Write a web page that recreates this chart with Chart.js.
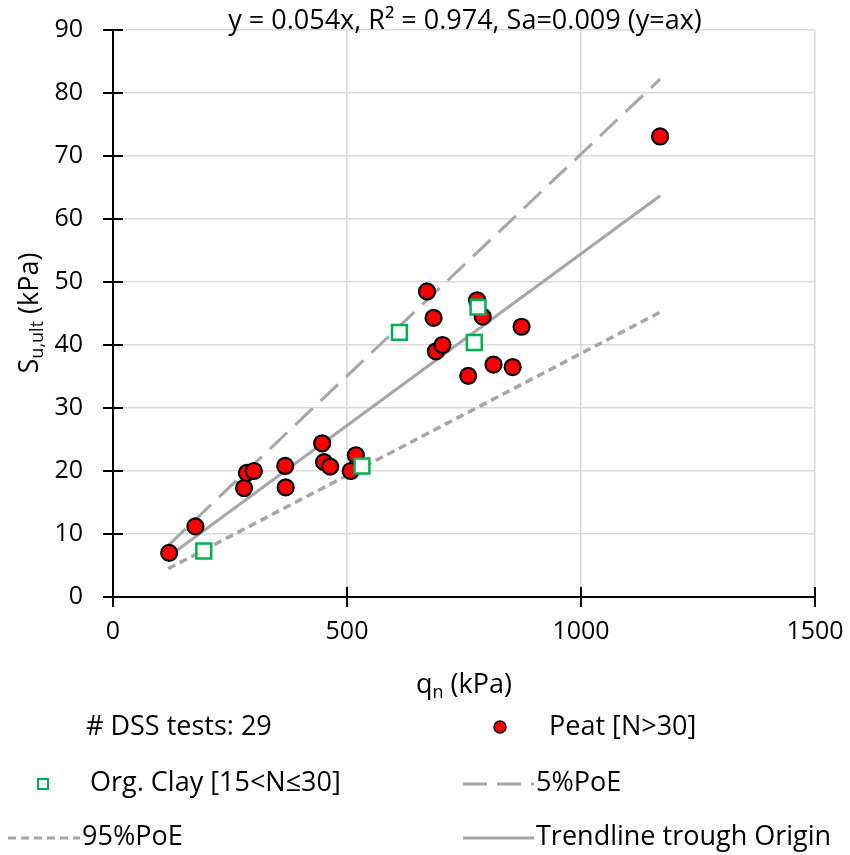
<!DOCTYPE html>
<html>
<head>
<meta charset="utf-8">
<script src="https://cdn.jsdelivr.net/npm/chart.js@4.4.0/dist/chart.umd.min.js"></script>
<style>
  html, body { margin: 0; padding: 0; background: #fff; }
  #wrap { width: 850px; height: 855px; }
</style>
</head>
<body>
<div id="wrap"><canvas id="chart" width="850" height="855"></canvas></div>
<script>
// values
const peatX = [120, 176, 280, 286, 301, 368, 369, 447, 451, 464, 508, 519, 671, 685, 690, 704, 759, 778, 790, 813, 854, 873, 1169];
const peatY = [7.0, 11.2, 17.3, 19.7, 20.0, 20.8, 17.4, 24.4, 21.4, 20.7, 20.0, 22.5, 48.5, 44.3, 39.0, 40.0, 35.1, 47.1, 44.5, 36.9, 36.5, 42.9, 73.1];
const clayX = [194, 532, 612, 772, 780];
const clayY = [7.3, 20.8, 42.0, 40.4, 46.0];
const lineX = [118, 1169];
const trendY = [6.4, 63.7];
const poe5Y = [8.2, 82.2];
const poe95Y = [4.5, 45.2];

const titleText = 'y = 0.054x, R\u00B2 = 0.974, Sa=0.009 (y=ax)';
const FONT = "'Open Sans', sans-serif";
const GREY = '#a6a6a6';

function pts(xs, ys) {
  return xs.map((x, i) => ({ x: x, y: ys[i] }));
}

// ticks crossing the axes, titles with subscripts, legend
const decor = {
  id: 'decor',
  afterDraw(chart) {
    const ctx = chart.ctx;
    const a = chart.chartArea;
    const xs = chart.scales.x, ys = chart.scales.y;
    ctx.save();
    ctx.strokeStyle = '#000';
    ctx.lineWidth = 2;
    ys.ticks.forEach(t => {
      const y = ys.getPixelForValue(t.value);
      ctx.beginPath(); ctx.moveTo(a.left - 10, y); ctx.lineTo(a.left + 10, y); ctx.stroke();
    });
    xs.ticks.forEach(t => {
      const x = xs.getPixelForValue(t.value);
      ctx.beginPath(); ctx.moveTo(x, a.bottom - 10); ctx.lineTo(x, a.bottom + 10); ctx.stroke();
    });

    const big = '27px ' + FONT, small = '18px ' + FONT;
    ctx.fillStyle = '#000';
    ctx.textBaseline = 'middle';
    ctx.font = big;
    ctx.textAlign = 'center';
    ctx.fillText(titleText, 465, 21);

    // x title: q_n (kPa)
    ctx.textAlign = 'left';
    ctx.font = big; const wq = ctx.measureText('q').width; const wk = ctx.measureText(' (kPa)').width;
    ctx.font = small; const wn = ctx.measureText('n').width;
    let x0 = 464 - (wq + wn + wk) / 2;
    ctx.font = big; ctx.fillText('q', x0, 685);
    ctx.font = small; ctx.fillText('n', x0 + wq, 693);
    ctx.font = big; ctx.fillText(' (kPa)', x0 + wq + wn, 685);

    // y title: S_u,ult (kPa)
    ctx.save();
    ctx.translate(30, 313);
    ctx.rotate(-Math.PI / 2);
    ctx.font = big; const ws = ctx.measureText('S').width; const wk2 = ctx.measureText(' (kPa)').width;
    ctx.font = small; const wu = ctx.measureText('u,ult').width;
    x0 = -(ws + wu + wk2) / 2;
    ctx.font = big; ctx.fillText('S', x0, 0);
    ctx.font = small; ctx.fillText('u,ult', x0 + ws, 8);
    ctx.font = big; ctx.fillText(' (kPa)', x0 + ws + wu, 0);
    ctx.restore();

    // legend
    ctx.font = big;
    ctx.fillStyle = '#000';
    ctx.fillText('# DSS tests: 29', 86, 727);
    ctx.fillText('Peat [N>30]', 549, 727);
    ctx.fillText('Org. Clay [15<N\u226430]', 90, 783);
    ctx.fillText('5%PoE', 536, 783);
    ctx.fillText('95%PoE', 82, 837);
    ctx.fillText('Trendline trough Origin', 536, 837);

    ctx.beginPath(); ctx.arc(500, 727, 6, 0, Math.PI * 2);
    ctx.fillStyle = '#ff0000'; ctx.fill();
    ctx.lineWidth = 1.5; ctx.strokeStyle = '#000'; ctx.stroke();

    ctx.lineWidth = 2; ctx.strokeStyle = '#00b050'; ctx.fillStyle = '#fff';
    ctx.fillRect(38, 779, 10, 10); ctx.strokeRect(38, 779, 10, 10);

    ctx.strokeStyle = GREY; ctx.lineWidth = 3;
    ctx.setLineDash([24, 10]);
    ctx.beginPath(); ctx.moveTo(463, 784); ctx.lineTo(534, 784); ctx.stroke();
    ctx.setLineDash([8, 5]);
    ctx.beginPath(); ctx.moveTo(8, 838); ctx.lineTo(80, 838); ctx.stroke();
    ctx.setLineDash([]);
    ctx.beginPath(); ctx.moveTo(463, 838); ctx.lineTo(534, 838); ctx.stroke();
    ctx.restore();
  }
};

new Chart(document.getElementById('chart'), {
  type: 'scatter',
  data: {
    datasets: [
      {
        label: 'Org. Clay [15<N\u226430]',
        data: pts(clayX, clayY),
        pointStyle: 'rect',
        pointRadius: 10.5,
        backgroundColor: '#fff',
        borderColor: '#00b050',
        borderWidth: 2.5,
        order: 1
      },
      {
        label: 'Peat [N>30]',
        data: pts(peatX, peatY),
        pointStyle: 'circle',
        pointRadius: 8,
        backgroundColor: '#ff0000',
        borderColor: '#000',
        borderWidth: 2.2,
        order: 2
      },
      {
        label: '5%PoE',
        data: pts(lineX, poe5Y),
        showLine: true,
        pointRadius: 0,
        borderColor: GREY,
        borderWidth: 3,
        borderDash: [24, 11],
        order: 3
      },
      {
        label: '95%PoE',
        data: pts(lineX, poe95Y),
        showLine: true,
        pointRadius: 0,
        borderColor: GREY,
        borderWidth: 3.5,
        borderDash: [8, 5],
        order: 4
      },
      {
        label: 'Trendline trough Origin',
        data: pts(lineX, trendY),
        showLine: true,
        pointRadius: 0,
        borderColor: GREY,
        borderWidth: 3,
        order: 5
      }
    ]
  },
  options: {
    responsive: false,
    animation: false,
    devicePixelRatio: 1,
    layout: { padding: { top: 30, right: 35, left: 0, bottom: 0 } },
    plugins: { legend: { display: false }, tooltip: { enabled: false } },
    scales: {
      x: {
        type: 'linear',
        min: 0, max: 1500,
        afterFit(s) { s.height = 258; s.paddingLeft = 0; s.paddingRight = 0; },
        ticks: { stepSize: 500, color: '#000', font: { family: FONT, size: 25 }, padding: 20, maxRotation: 0,
          callback: v => String(v) },
        grid: { color: '#d9d9d9', lineWidth: 1.5, drawTicks: false },
        border: { color: '#000', width: 2 }
      },
      y: {
        min: 0, max: 90,
        afterFit(s) { s.width = 113; s.paddingTop = 0; s.paddingBottom = 0; },
        ticks: { stepSize: 10, color: '#000', font: { family: FONT, size: 25 }, padding: 30 },
        grid: { color: '#d9d9d9', lineWidth: 1.5, drawTicks: false },
        border: { color: '#000', width: 2 }
      }
    }
  },
  plugins: [decor]
});
</script>
</body>
</html>
